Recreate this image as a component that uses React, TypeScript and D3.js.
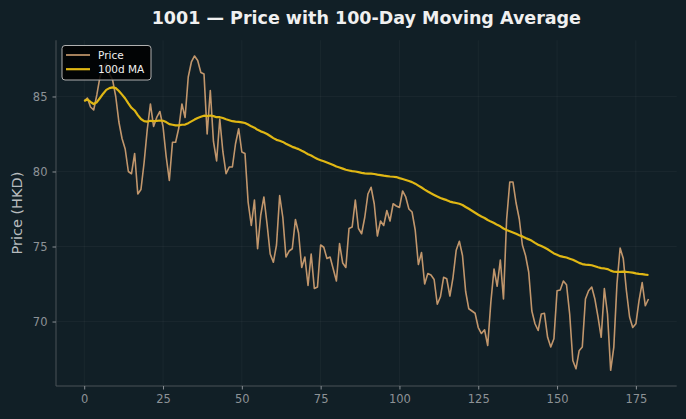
import { useRef, useEffect } from 'react';
import * as d3 from 'd3';

// daily closing prices, day 0..179
const prices = [
  84.7, 84.9, 84.3, 84.1, 85.1, 86.3, 86.9, 87.2, 86.5, 86.1,
  85.0, 83.3, 82.2, 81.5, 80.0, 79.85, 81.2, 78.5, 78.8, 80.6,
  82.8, 84.5, 83.0, 83.6, 84.0, 83.0, 81.0, 79.4, 81.95, 81.95,
  82.9, 84.5, 83.6, 86.3, 87.3, 87.7, 87.4, 86.6, 86.5, 82.5,
  85.4, 82.0, 80.7, 83.5, 81.3, 79.85, 80.3, 80.3, 81.85, 82.85,
  81.3, 81.2, 77.95, 76.4, 78.1, 74.85, 77.1, 78.3, 76.5, 74.5,
  73.95, 75.1, 78.4, 76.95, 74.3, 74.7, 74.85, 76.8, 75.9, 73.6,
  74.3, 72.4, 74.5, 72.2, 72.3, 75.1, 74.95, 74.2, 74.3, 73.5,
  72.7, 75.2, 73.9, 73.6, 76.2, 76.3, 78.1, 76.2, 75.85, 76.95,
  78.5, 78.95, 77.85, 75.7, 76.7, 76.4, 77.4, 76.7, 77.85, 77.7,
  77.6, 78.7, 78.3, 77.5, 77.3, 76.1, 73.8, 74.6, 72.5, 73.2,
  73.1, 72.8, 71.15, 71.65, 72.95, 72.85, 71.7, 72.95, 74.75, 75.35,
  74.4, 72.0, 70.85, 70.7, 70.55, 69.6, 69.2, 69.45, 68.4, 71.3,
  73.5, 72.35, 74.1, 71.5, 76.8, 79.3, 79.3, 77.9, 76.85, 75.1,
  74.4, 73.3, 70.7, 69.85, 69.4, 70.5, 70.55, 68.95, 68.3, 68.85,
  72.05, 72.1, 72.7, 72.45, 70.5, 67.4, 66.85, 68.05, 68.3, 71.5,
  72.05, 72.3, 71.5, 70.3, 68.95, 72.2, 70.5, 66.75, 68.3, 72.5,
  74.9, 74.2, 72.05, 70.3, 69.6, 69.85, 71.4, 72.6, 71.05, 71.5,
];

const maWindow = 100;
const xTicks = [0, 25, 50, 75, 100, 125, 150, 175];
const yTicks = [70, 75, 80, 85];

export default function App() {
  const ref = useRef<SVGSVGElement>(null);

  useEffect(() => {
    const width = 686;
    const height = 419;
    const margin = { top: 40.25, right: 9.3, bottom: 33, left: 56 };

    const svg = d3.select(ref.current);
    svg.selectAll('*').remove();

    svg.append('rect').attr('width', width).attr('height', height).attr('fill', '#111f26');

    const data = prices.map((p, i) => ({ day: i, price: p }));
    // rolling mean, partial window at the start
    const ma = data.map((d, i) => {
      const slice = prices.slice(Math.max(0, i - maWindow + 1), i + 1);
      return { day: d.day, value: d3.mean(slice) as number };
    });

    const n = data.length - 1;
    const x = d3.scaleLinear()
      .domain([-n * 0.05, n * 1.05])
      .range([margin.left, width - margin.right]);

    const [lo, hi] = d3.extent(prices) as [number, number];
    const pad = (hi - lo) * 0.05;
    const y = d3.scaleLinear()
      .domain([lo - pad, hi + pad])
      .range([height - margin.bottom, margin.top]);

    const font = 'DejaVu Sans, sans-serif';

    // grid
    const grid = svg.append('g').attr('stroke', '#ffffff').attr('stroke-opacity', 0.05).attr('stroke-width', 0.8);
    xTicks.forEach(t => {
      grid.append('line').attr('x1', x(t)).attr('x2', x(t)).attr('y1', margin.top).attr('y2', height - margin.bottom);
    });
    yTicks.forEach(t => {
      grid.append('line').attr('x1', margin.left).attr('x2', width - margin.right).attr('y1', y(t)).attr('y2', y(t));
    });

    // axes
    const xAxis = svg.append('g')
      .attr('transform', `translate(0,${height - margin.bottom})`)
      .call(d3.axisBottom(x).tickValues(xTicks).tickSize(3.5).tickPadding(5).tickSizeOuter(0));
    const yAxis = svg.append('g')
      .attr('transform', `translate(${margin.left},0)`)
      .call(d3.axisLeft(y).tickValues(yTicks).tickSize(3.5).tickPadding(5).tickSizeOuter(0));

    [xAxis, yAxis].forEach(a => {
      a.select('.domain').attr('stroke', '#4a5257').attr('stroke-width', 1);
      a.selectAll('.tick line').attr('stroke', '#8a9095');
      a.selectAll('.tick text').attr('fill', '#8d9296').attr('font-size', 11.5).attr('font-family', font);
    });
    yAxis.select('.domain').attr('d', `M0,${margin.top}V${height - margin.bottom}`);
    xAxis.select('.domain').attr('d', `M${margin.left},0H${width - margin.right}`);

    // price line
    const line = d3.line<{ day: number; price: number }>()
      .x(d => x(d.day))
      .y(d => y(d.price));
    svg.append('path')
      .datum(data)
      .attr('fill', 'none')
      .attr('stroke', '#d0a172')
      .attr('stroke-opacity', 0.92)
      .attr('stroke-width', 1.6)
      .attr('stroke-linejoin', 'round')
      .attr('d', line);

    // moving average
    const maLine = d3.line<{ day: number; value: number }>()
      .x(d => x(d.day))
      .y(d => y(d.value));
    svg.append('path')
      .datum(ma)
      .attr('fill', 'none')
      .attr('stroke', '#e0b714')
      .attr('stroke-width', 2.2)
      .attr('stroke-linejoin', 'round')
      .attr('d', maLine);

    // title
    svg.append('text')
      .attr('x', (margin.left + width - margin.right) / 2)
      .attr('y', 24)
      .attr('text-anchor', 'middle')
      .attr('fill', '#f0f0f0')
      .attr('font-family', font)
      .attr('font-weight', 'bold')
      .attr('font-size', 17.5)
      .text('1001 — Price with 100-Day Moving Average');

    // y label
    svg.append('text')
      .attr('transform', `translate(22,${(margin.top + height - margin.bottom) / 2}) rotate(-90)`)
      .attr('text-anchor', 'middle')
      .attr('fill', '#b8bcbf')
      .attr('font-family', font)
      .attr('font-size', 14.5)
      .text('Price (HKD)');

    // legend
    const lg = svg.append('g').attr('transform', 'translate(62,45.5)');
    lg.append('rect')
      .attr('width', 89)
      .attr('height', 34.5)
      .attr('rx', 3)
      .attr('fill', '#000000')
      .attr('fill-opacity', 0.85)
      .attr('stroke', '#b0b0b0')
      .attr('stroke-width', 1);
    const items = [
      { label: 'Price', color: '#d0a172', w: 1.6 },
      { label: '100d MA', color: '#e0b714', w: 2.2 },
    ];
    items.forEach((it, i) => {
      const cy = 9.5 + i * 14.2;
      lg.append('line')
        .attr('x1', 4).attr('x2', 28).attr('y1', cy).attr('y2', cy)
        .attr('stroke', it.color).attr('stroke-width', it.w);
      lg.append('text')
        .attr('x', 36).attr('y', cy + 3.6)
        .attr('fill', '#f0f0f0')
        .attr('font-family', font)
        .attr('font-size', 10.5)
        .text(it.label);
    });
  }, []);

  return (
    <svg
      ref={ref}
      width={686}
      height={419}
      style={{ position: 'absolute', left: 0, top: 0, display: 'block' }}
    />
  );
}
